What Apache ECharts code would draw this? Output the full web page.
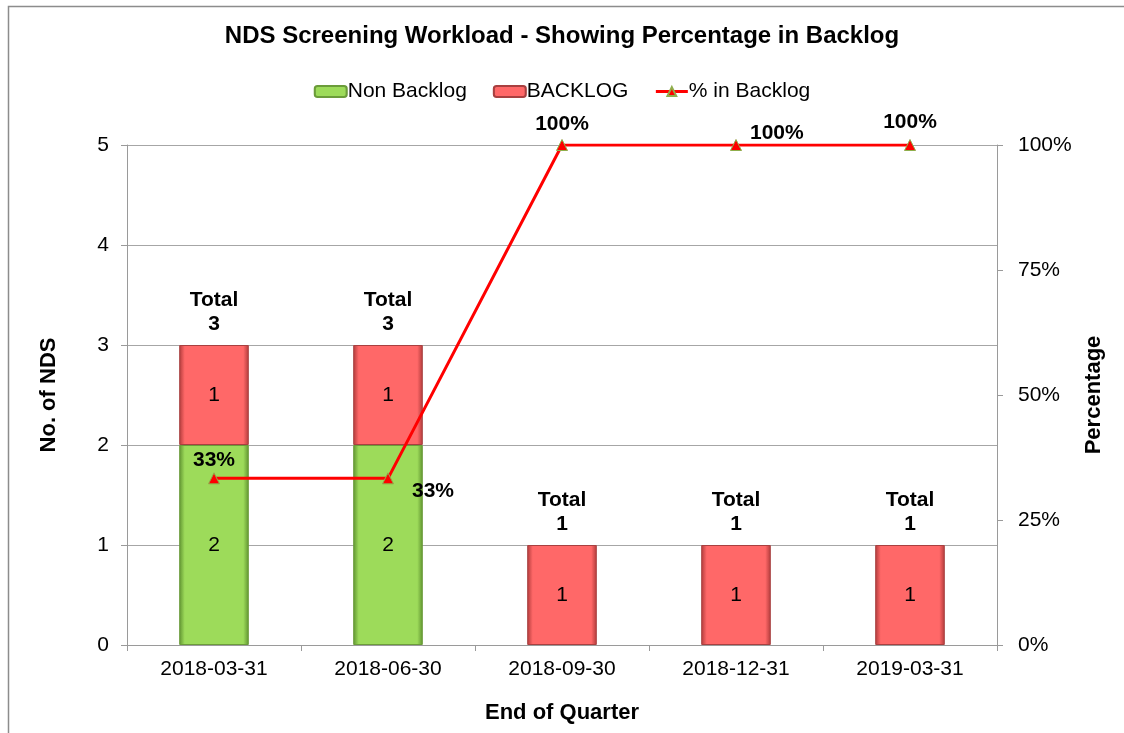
<!DOCTYPE html>
<html>
<head>
<meta charset="utf-8">
<script src="https://cdn.jsdelivr.net/npm/echarts@6/dist/echarts.min.js"></script>
<style>
  html, body { margin: 0; padding: 0; background: #fff; }
  #chart { width: 1124px; height: 733px; }
</style>
</head>
<body>
<div id="chart"></div>
<script>
  var quarters = ['2018-03-31', '2018-06-30', '2018-09-30', '2018-12-31', '2019-03-31'];
  var nonBacklog = [2, 2, 0, 0, 0];
  var backlog = [1, 1, 1, 1, 1];
  var pctBacklog = [0.3333, 0.3333, 1, 1, 1];
  var leftTicks = [0, 1, 2, 3, 4, 5];
  var rightTicks = [0, 0.25, 0.5, 0.75, 1];

  // where each % label sits relative to its point
  var pctLabelPlace = [
    { position: 'top', distance: 2 },
    { position: 'right', offset: [13, 13] },
    { position: 'top', distance: 4 },
    { position: 'right', offset: [3, -12] },
    { position: 'top', distance: 6 }
  ];

  var totals = quarters.map(function (q, i) { return nonBacklog[i] + backlog[i]; });

  function bevel(mid, edge) {
    return new echarts.graphic.LinearGradient(0, 0, 1, 0, [
      { offset: 0, color: edge },
      { offset: 0.08, color: mid },
      { offset: 0.92, color: mid },
      { offset: 1, color: edge }
    ]);
  }

  var chart = echarts.init(document.getElementById('chart'));
  var font = 'Liberation Sans, Arial, sans-serif';

  var option = {
    backgroundColor: '#fff',
    textStyle: { fontFamily: font },
    graphic: [{
      type: 'rect',
      shape: { x: 8.5, y: 6.5, width: 1130, height: 740 },
      style: { fill: 'none', stroke: '#8c8c8c', lineWidth: 1.5 },
      silent: true
    }],
    title: {
      text: 'NDS Screening Workload - Showing Percentage in Backlog',
      left: 'center',
      top: 19,
      textStyle: { fontSize: 24, fontWeight: 'bold', color: '#000', fontFamily: font }
    },
    legend: {
      top: 76,
      left: 'center',
      itemWidth: 32,
      itemHeight: 11,
      itemGap: 26,
      data: [
        'Non Backlog',
        'BACKLOG',
        { name: '% in Backlog', lineStyle: { width: 3 } }
      ],
      textStyle: { fontSize: 21, color: '#000', fontFamily: font, padding: [0, 0, 0, -4] }
    },
    grid: { left: 127, right: 127, top: 145, bottom: 88 },
    xAxis: {
      type: 'category',
      data: quarters,
      name: 'End of Quarter',
      nameLocation: 'middle',
      nameGap: 57,
      nameTextStyle: { fontSize: 22, fontWeight: 'bold', color: '#000' },
      axisLine: { lineStyle: { color: '#9a9a9a', width: 1 } },
      axisTick: { show: true, length: 6, lineStyle: { color: '#9a9a9a' } },
      axisLabel: { fontSize: 21, color: '#000', margin: 14 }
    },
    yAxis: [{
      type: 'value',
      min: leftTicks[0],
      max: leftTicks[leftTicks.length - 1],
      interval: 1,
      name: 'No. of NDS',
      nameLocation: 'middle',
      nameGap: 67,
      nameTextStyle: { fontSize: 22, fontWeight: 'bold', color: '#000' },
      axisLine: { show: true, lineStyle: { color: '#9a9a9a' } },
      axisTick: { show: true, length: 6, lineStyle: { color: '#9a9a9a' } },
      axisLabel: { fontSize: 21, color: '#000', margin: 18 },
      splitLine: { lineStyle: { color: '#a6a6a6', width: 1 } }
    }, {
      type: 'value',
      min: rightTicks[0],
      max: rightTicks[rightTicks.length - 1],
      interval: 0.25,
      name: 'Percentage',
      nameLocation: 'middle',
      nameGap: 75,
      nameRotate: 90,
      nameTextStyle: { fontSize: 22, fontWeight: 'bold', color: '#000' },
      axisLine: { show: true, lineStyle: { color: '#9a9a9a' } },
      axisTick: { show: true, length: 6, lineStyle: { color: '#9a9a9a' } },
      axisLabel: {
        fontSize: 21, color: '#000', margin: 21,
        formatter: function (v) { return Math.round(v * 100) + '%'; }
      },
      splitLine: { show: false }
    }],
    series: [{
      name: 'Non Backlog',
      type: 'bar',
      stack: 'nds',
      barWidth: '40%',
      data: nonBacklog.map(function (v) { return v === 0 ? '-' : v; }),
      itemStyle: {
        color: bevel('#9ddb5a', '#5f9330'),
        borderColor: '#6b9c3a',
        borderWidth: 1
      },
      label: { show: true, position: 'inside', fontSize: 21, color: '#000' }
    }, {
      name: 'BACKLOG',
      type: 'bar',
      stack: 'nds',
      data: backlog,
      itemStyle: {
        color: bevel('#ff6868', '#b03a3a'),
        borderColor: '#a84040',
        borderWidth: 1
      },
      label: { show: true, position: 'inside', fontSize: 21, color: '#000' }
    }, {
      name: 'Total',
      type: 'bar',
      stack: 'nds',
      data: totals.map(function () { return 0; }),
      itemStyle: { color: 'rgba(0,0,0,0)' },
      label: {
        show: true,
        position: 'top',
        distance: 9,
        fontSize: 21,
        fontWeight: 'bold',
        color: '#000',
        lineHeight: 24,
        formatter: function (p) { return 'Total\n' + totals[p.dataIndex]; }
      }
    }, {
      name: '% in Backlog',
      type: 'line',
      yAxisIndex: 1,
      data: pctBacklog.map(function (v, i) {
        return { value: v, label: pctLabelPlace[i] };
      }),
      symbol: 'triangle',
      symbolSize: 11,
      lineStyle: { color: '#ff0000', width: 3 },
      itemStyle: { color: '#ff0000', borderColor: '#8fae4c', borderWidth: 1 },
      label: {
        show: true,
        fontSize: 21,
        fontWeight: 'bold',
        color: '#000',
        formatter: function (p) { return Math.round(p.value * 100) + '%'; }
      },
      z: 5
    }]
  };
  chart.setOption(option);
</script>
</body>
</html>
